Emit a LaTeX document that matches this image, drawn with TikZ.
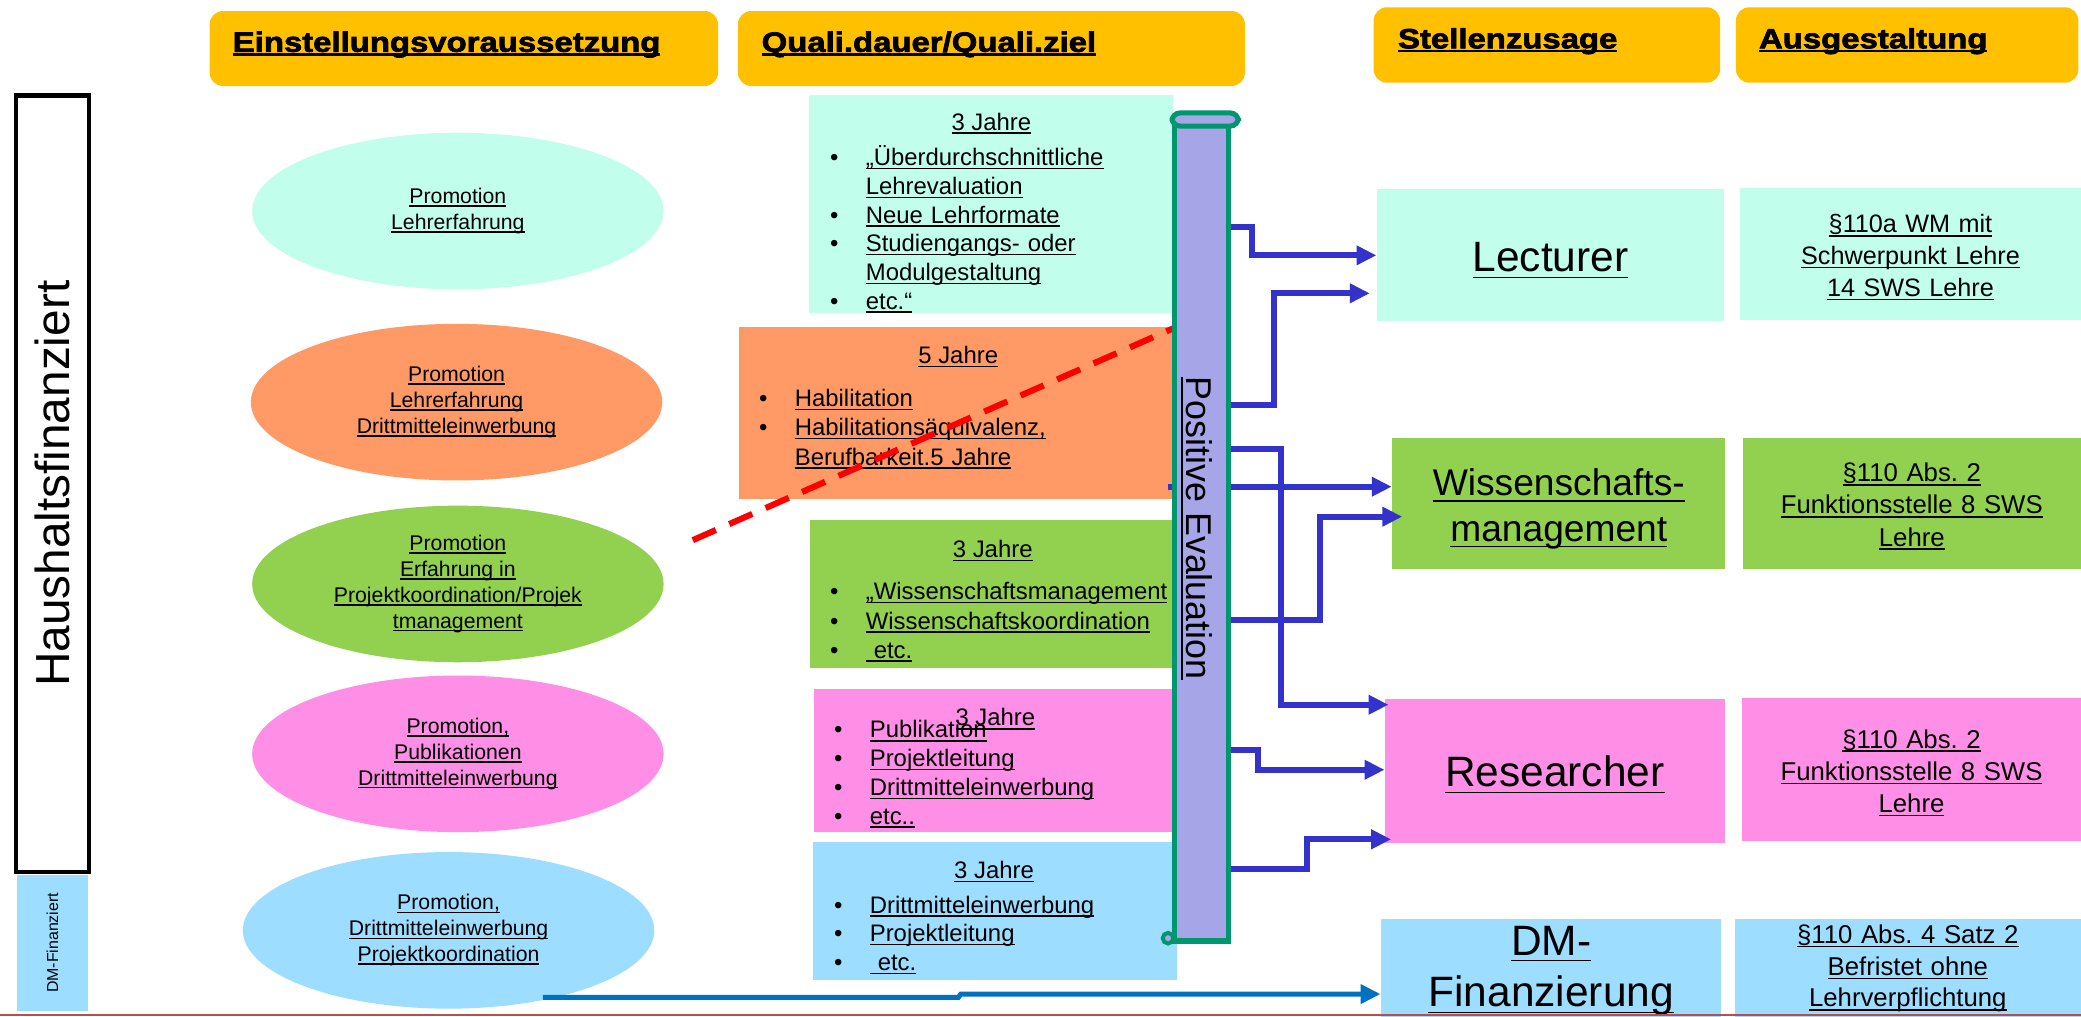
\documentclass[tikz,border=0pt]{standalone}
\usepackage{fontspec}
\setmainfont{Liberation Sans}
\newfontfamily\hdfont[FakeStretch=1.18,FakeBold=2.5]{Liberation Sans}
\usetikzlibrary{shapes.geometric,arrows.meta,fit}

\definecolor{hdor}{HTML}{FFC000}
\definecolor{cyanl}{HTML}{C1FFEC}
\definecolor{orng}{HTML}{FF9966}
\definecolor{grn}{HTML}{92D050}
\definecolor{pnk}{HTML}{FF8FE6}
\definecolor{lblue}{HTML}{9DDDFF}
\definecolor{lav}{HTML}{A5A5E8}
\definecolor{bargreen}{HTML}{00966E}
\definecolor{arrblue}{HTML}{3333CC}
\definecolor{dmblue}{HTML}{0070C0}
\definecolor{botred}{HTML}{B5504D}

\newsavebox\myulbox
\newcommand\ulw[2]{\leavevmode\sbox\myulbox{#2}\rlap{\rule[-0.15em]{\wd\myulbox}{#1}}\usebox\myulbox}
\newcommand\ul[1]{\ulw{0.55pt}{#1}}
\newcommand\bl[1]{\makebox[13.5pt][l]{\textbullet}\ul{#1}}
\newcommand\bc[1]{\hspace*{13.5pt}\ul{#1}}
\newcommand\hd[1]{{\hdfont\bfseries\fontsize{10.5}{12}\selectfont\ulw{1.1pt}{#1}}}

\begin{document}
\frenchspacing
\begin{tikzpicture}[x=0.5pt,y=-0.5pt,
  hdbox/.style={fill=hdor,rounded corners=5pt,inner sep=0},
  hdtext/.style={anchor=base west,inner sep=0},
  midbox/.style={inner sep=0},
  ttl/.style={anchor=base,inner sep=0,font=\fontsize{9}{11}\selectfont},
  blist/.style={anchor=base west,inner sep=0,text width=220pt,align=left},
  ell/.style={ellipse,minimum width=155pt,minimum height=59pt,inner sep=0,align=center,font=\fontsize{8}{9.75}\selectfont},
  rbox/.style={inner sep=0},
  rtext/.style={anchor=base,inner sep=0,text width=125pt,align=center},
  arr/.style={draw=arrblue,line width=2.25pt,-{Triangle[length=7.5pt,width=7pt]}},
  dmarr/.style={draw=dmblue,line width=1.9pt,-{Triangle[length=7.5pt,width=7pt]}}
]
\clip (0,0) rectangle (1568,766);
\fill[white] (0,0) rectangle (1568,766);

% headers
\node[hdbox,fit={(158,8.3) (541,64.8)}] (h1) {};
\node[hdtext] (h1t) at (175,39) {\hd{Einstellungsvoraussetzung}};
\node[hdbox,fit={(556,8.3) (938,64.8)}] (h2) {};
\node[hdtext] (h2t) at (573.5,39) {\hd{Quali.dauer/Quali.ziel}};
\node[hdbox,fit={(1035,5.5) (1296,62.3)}] (h3) {};
\node[hdtext] (h3t) at (1053,36.4) {\hd{Stellenzusage}};
\node[hdbox,fit={(1308,5.5) (1566,62.3)}] (h4) {};
\node[hdtext] (h4t) at (1325,36.4) {\hd{Ausgestaltung}};

% left labels
\node[fit={(12,72) (67,657)},draw=black,line width=1.6pt,inner sep=0] (hh) {};
\node[rotate=90,inner sep=0,font=\fontsize{18}{20}\selectfont] (hht) at (hh.center) {Haushaltsfinanziert};
\node[fit={(13,659) (66,762)},fill=lblue,inner sep=0] (dmf) {};
\node[rotate=90,inner sep=0,font=\fontsize{6}{7}\selectfont] (dmft) at (dmf.center) {DM-Finanziert};

% ellipses
\node[ell,fill=cyanl] (e1) at (345,159) {\ul{Promotion}\\\ul{Lehrerfahrung}};
\node[ell,fill=orng] (e2) at (344,303) {\ul{Promotion}\\\ul{Lehrerfahrung}\\\ul{Drittmitteleinwerbung}};
\node[ell,fill=grn] (e3) at (345,440) {\ul{Promotion}\\\ul{Erfahrung in}\\\ul{Projektkoordination/Projek}\\\ul{tmanagement}};
\node[ell,fill=pnk] (e4) at (345,568) {\ul{Promotion,}\\\ul{Publikationen}\\\ul{Drittmitteleinwerbung}};
\node[ell,fill=lblue] (e5) at (338,701) {\ul{Promotion,}\\\ul{Drittmitteleinwerbung}\\\ul{Projektkoordination}};

% middle boxes
\node[midbox,fill=cyanl,fit={(609.5,71.6) (884,236)}] (bA) {};
\node[ttl] (tA) at (747,98) {\ul{3 Jahre}};
\node[blist,font=\fontsize{9}{10.8}\selectfont] (lA) at (625,125)
  {\bl{„Überdurchschnittliche}\\\bc{Lehrevaluation}\\\bl{Neue Lehrformate}\\\bl{Studiengangs- oder}\\\bc{Modulgestaltung}\\\bl{etc.“}};

\node[midbox,fill=orng,fit={(557,246.5) (884,376)}] (bB) {};
\node[ttl] (tB) at (722,274) {\ul{5 Jahre}};
\node[blist,font=\fontsize{9}{11}\selectfont] (lB) at (571.5,306.4)
  {\bl{Habilitation}\\\bl{Habilitationsäquivalenz,}\\\bc{Berufbarkeit.5 Jahre}};

\node[midbox,fill=grn,fit={(610,391.8) (884,503.6)}] (bC) {};
\node[ttl] (tC) at (748,420) {\ul{3 Jahre}};
\node[blist,font=\fontsize{9}{11}\selectfont] (lC) at (625,452)
  {\bl{„Wissenschaftsmanagement}\\\bl{Wissenschaftskoordination}\\\bl{\ etc.}};

\node[midbox,fill=pnk,fit={(613,519) (884,626.7)}] (bD) {};
\node[ttl] (tD) at (750,547) {\ul{3 Jahre}};
\node[blist,font=\fontsize{9}{10.85}\selectfont] (lD) at (628,556)
  {\bl{Publikation}\\\bl{Projektleitung}\\\bl{Drittmitteleinwerbung}\\\bl{etc..}};

\node[midbox,fill=lblue,fit={(612.5,634.6) (887,738.4)}] (bE) {};
\node[ttl] (tE) at (749,662) {\ul{3 Jahre}};
\node[blist,font=\fontsize{9}{10.85}\selectfont] (lE) at (628,688)
  {\bl{Drittmitteleinwerbung}\\\bl{Projektleitung}\\\bl{\ etc.}};

% red dashed line
\coordinate (rd1) at (522,407);
\coordinate (rd2) at (888,245.6);
\draw[red,line width=2.3pt,dash pattern=on 9.5pt off 5.5pt] (rd1) -- (rd2);

% right boxes
\node[rbox,fill=cyanl,fit={(1037.5,142.4) (1299,241.6)}] (lect) {};
\node[rtext,font=\fontsize{16}{18}\selectfont] (lectt) at (1168.25,204.7) {\ul{Lecturer}};
\node[rbox,fill=cyanl,fit={(1311,141.9) (1568,241)}] (a1) {};
\node[rtext,font=\fontsize{9.5}{11.95}\selectfont] (a1t) at (1439.5,175.5) {\ul{§110a WM mit}\\\ul{Schwerpunkt Lehre}\\\ul{14 SWS Lehre}};
\node[rbox,fill=grn,fit={(1049,330) (1300,429)}] (wiss) {};
\node[rtext,font=\fontsize{14}{17.15}\selectfont] (wisst) at (1174.5,373.7) {\ul{Wissenschafts-}\\\ul{management}};
\node[rbox,fill=grn,fit={(1313,330) (1568,429)}] (a2) {};
\node[rtext,font=\fontsize{9.7}{12.1}\selectfont] (a2t) at (1440.5,363) {\ul{§110 Abs. 2}\\\ul{Funktionsstelle 8 SWS}\\\ul{Lehre}};
\node[rbox,fill=pnk,fit={(1043.6,527) (1299.5,635)}] (res) {};
\node[rtext,font=\fontsize{16}{18}\selectfont] (rest) at (1171.5,592.7) {\ul{Researcher}};
\node[rbox,fill=pnk,fit={(1312.6,526) (1568,634)}] (a3) {};
\node[rtext,font=\fontsize{9.7}{12.1}\selectfont] (a3t) at (1440.3,563.6) {\ul{§110 Abs. 2}\\\ul{Funktionsstelle 8 SWS}\\\ul{Lehre}};
\node[rbox,fill=lblue,fit={(1040.6,692.4) (1297,771)}] (dm) {};
\node[rtext,font=\fontsize{16}{19.45}\selectfont] (dmt) at (1168.8,719.6) {\ul{DM-}\\\ul{Finanzierung}};
\node[rbox,fill=lblue,fit={(1307,692.4) (1568,771)}] (a4) {};
\node[rtext,font=\fontsize{9.7}{11.9}\selectfont] (a4t) at (1437.5,711) {\ul{§110 Abs. 4 Satz 2}\\\ul{Befristet ohne}\\\ul{Lehrverpflichtung}};

% arrow under the bar (stub visible at left)
\draw[arr] (880,366.7) -- (wiss.west |- 0,366.7);

% Positive Evaluation scroll bar
\node[fit={(885,92) (926,709)},fill=lav,draw=bargreen,line width=1.9pt,inner sep=0] (bar) {};
\draw[fill=lav,draw=bargreen,line width=1.9pt,rounded corners=3pt] (bar.north west) ++(0,-5) rectangle (933,95);
\draw[fill=lav,draw=bargreen,line width=1.5pt] (bar.south west) ++(-3,-4) circle (4);
\node[rotate=-90,inner sep=0,font=\fontsize{13.5}{15}\selectfont] (pe) at (902,398) {\ul{Positive Evaluation}};

% blue arrows
\draw[arr] (bar.east |- 0,171.3) -| (943.6,192.4) -- (lect.west |- 0,192.4);
\draw[arr] (bar.east |- 0,305) -| (960,221) -- ([xshift=-2.5pt]lect.west |- 0,221);
\draw[arr] (bar.east |- 0,338.6) -| (965,531) -- ([xshift=1.5pt]res.west |- 0,531);
\draw[arr] (bar.east |- 0,467) -| (994.6,389.3) -- ([xshift=4pt]wiss.west |- 0,389.3);
\draw[arr] (bar.east |- 0,565) -| (947.6,580) -- (res.west |- 0,580);
\draw[arr] (bar.east |- 0,655) -| (984.5,632.4) -- ([xshift=2.5pt]res.west |- 0,632.4);

% DM arrow
\coordinate (dmstart) at (409,751.5);
\draw[dmarr] (dmstart) -- (722,751.5) -- (724,749) -- (dm.west |- 0,749);

% bottom rule
\draw[botred,line width=0.75pt] (0,765) -- (1568,765);
\end{tikzpicture}
\end{document}
